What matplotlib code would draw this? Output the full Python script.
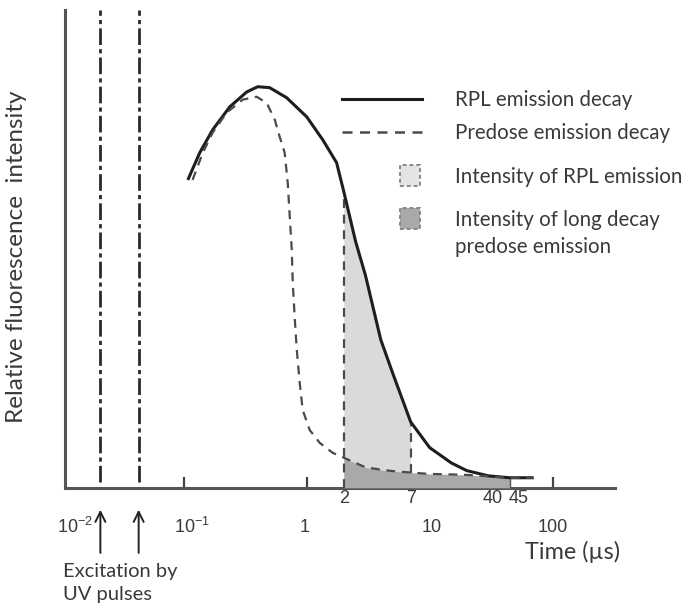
import numpy as np
import matplotlib
matplotlib.use("Agg")
import matplotlib.pyplot as plt
from matplotlib.patches import Rectangle
from matplotlib.transforms import blended_transform_factory

plt.rcParams['font.family'] = ['Lato', 'DejaVu Sans']
plt.rcParams['mathtext.fontset'] = 'custom'
plt.rcParams['mathtext.rm'] = 'Liberation Sans'

# RPL emission decay (solid) - rise part
rpl_head_x = [0.108, 0.135, 0.172, 0.237, 0.325, 0.40, 0.50, 0.687, 1.0, 1.35, 1.75]
rpl_head_y = [0.644, 0.701, 0.749, 0.797, 0.828, 0.839, 0.837, 0.816, 0.776, 0.728, 0.680]

# predose emission decay (dashed) - rise and fast drop
pre_head_x = [0.118, 0.143, 0.172, 0.224, 0.302, 0.392, 0.473, 0.55, 0.603, 0.662,
              0.701, 0.728, 0.756, 0.770, 0.798, 0.830, 0.877, 0.927, 1.057, 1.276, 1.63]
pre_head_y = [0.644, 0.701, 0.743, 0.785, 0.812, 0.818, 0.805, 0.770, 0.734, 0.701,
              0.638, 0.567, 0.498, 0.429, 0.358, 0.289, 0.220, 0.163, 0.121, 0.094, 0.073]

# shared tail times (us) for both curves
tail_x = [2, 2.5, 3, 4, 5, 7, 10, 15, 20, 30, 45, 70]
rpl_tail_y = [0.62, 0.515, 0.445, 0.31, 0.24, 0.138, 0.084, 0.052, 0.036, 0.025, 0.021, 0.021]
pre_tail_y = [0.063, 0.052, 0.043, 0.038, 0.035, 0.032, 0.029, 0.028, 0.027, 0.024, 0.021, 0.021]

# excitation pulses
pulse_x = [0.021, 0.043]

major_ticks = [0.1, 1, 10, 100]
major_labels = [r'$10^{-2}$', r'$10^{-1}$', '1', '10', '100']
major_label_x = [0.013, 0.116, 0.96, 10.3, 100]
window_ticks = [2, 7, 40, 45]

fig = plt.figure(figsize=(6.9, 6.09), dpi=100)
ax = fig.add_axes([0.094, 0.199, 0.797, 0.785])
ax.set_xscale('log')
ax.set_xlim(0.0108, 320)
ax.set_ylim(0, 1)

line_c = '#1e1e1e'
dash_c = '#4a4a4a'
text_c = '#3a3a3a'

rpl_x = rpl_head_x + tail_x
rpl_y = rpl_head_y + rpl_tail_y
pre_x = pre_head_x + tail_x
pre_y = pre_head_y + pre_tail_y

tx = np.array(tail_x)
ry = np.array(rpl_tail_y)
py = np.array(pre_tail_y)

# intensity of long decay predose emission (2-45 us)
m_long = (tx >= 2) & (tx <= 45)
ax.fill_between(tx[m_long], 0, py[m_long], color='#a9a9a9', lw=0, zorder=3)
# intensity of RPL emission (2-7 us)
m_rpl = (tx >= 2) & (tx <= 7)
ax.fill_between(tx[m_rpl], py[m_rpl], ry[m_rpl], color='#dadada', lw=0, zorder=3)

ax.plot(rpl_x, rpl_y, color=line_c, lw=2.2, zorder=5, solid_capstyle='butt',
        solid_joinstyle='round')
ax.plot(pre_x, pre_y, color=dash_c, lw=1.6, dashes=(4, 3), zorder=5)

# window edges
ax.vlines(tx[0], 0, ry[0], color=dash_c, lw=1.6, linestyles=(0, (4, 3)), zorder=4)
ax.vlines(tx[5], py[5], ry[5], color=dash_c, lw=1.6, linestyles=(0, (4, 3)), zorder=4)
ax.vlines(tx[-2], 0, py[-2], color='#555555', lw=1.0, zorder=4)

for px in pulse_x:
    ax.axvline(px, ymin=0.013, ymax=1, color='#2a2a2a', lw=2,
               dashes=(6, 1.5, 1.5, 1.5), zorder=2)

# axes styling
for s in ['top', 'right']:
    ax.spines[s].set_visible(False)
for s in ['left', 'bottom']:
    ax.spines[s].set_color('#555555')
    ax.spines[s].set_linewidth(2.2)
ax.set_yticks([])
ax.set_xticks(major_ticks)
ax.set_xticklabels([])
ax.xaxis.set_minor_locator(matplotlib.ticker.NullLocator())
ax.tick_params(axis='x', direction='in', length=8, width=1.6, color='#444444')

trans = blended_transform_factory(ax.transData, ax.transAxes)
for x, lab in zip(major_label_x, major_labels):
    ax.text(x, -0.082, lab, transform=trans, ha='center', va='center',
            fontsize=13, family='Liberation Sans', color=text_c)
win_ha = ['center', 'center', 'right', 'left']
win_dx = [1.0, 1.0, 0.99, 0.98]
for x, ha, dx in zip(window_ticks, win_ha, win_dx):
    ax.text(x * dx, -0.022, str(x), transform=trans, ha=ha, va='center',
            fontsize=13, family='Liberation Sans', color=text_c)

ax.set_ylabel('Relative fluorescence  intensity', fontsize=17.5, color=text_c)
ax.yaxis.set_label_coords(-0.069, 0.483)

# excitation arrows
for px in pulse_x:
    ax.annotate('', xy=(px, -0.04), xytext=(px, -0.142),
                xycoords=trans, textcoords=trans,
                arrowprops=dict(arrowstyle='->', color='#222222', lw=1.4,
                                mutation_scale=18), annotation_clip=False)
fig.text(0.091, 0.062, 'Excitation by', fontsize=14.5, color=text_c, va='center')
fig.text(0.091, 0.024, 'UV pulses', fontsize=14.5, color=text_c, va='center')
fig.text(0.829, 0.094, 'Time (\u00b5s)', fontsize=16.8, color=text_c,
         ha='center', va='center')

# legend drawn by hand
ax.plot([0.504, 0.649], [0.814, 0.814], transform=ax.transAxes, color=line_c, lw=2.2)
ax.plot([0.504, 0.649], [0.745, 0.745], transform=ax.transAxes, color=dash_c,
        lw=1.8, dashes=(4, 3))
ax.add_patch(Rectangle((0.609, 0.632), 0.036, 0.043, transform=ax.transAxes,
                       facecolor='#e4e4e4', edgecolor='#888888', lw=1.4,
                       ls=(0, (2, 1.5))))
ax.add_patch(Rectangle((0.609, 0.542), 0.036, 0.043, transform=ax.transAxes,
                       facecolor='#a9a9a9', edgecolor='#888888', lw=1.4,
                       ls=(0, (2, 1.5))))
leg_kw = dict(transform=ax.transAxes, fontsize=14.8, color=text_c, va='center')
ax.text(0.709, 0.812, 'RPL emission decay', **leg_kw)
ax.text(0.709, 0.743, 'Predose emission decay', **leg_kw)
ax.text(0.709, 0.651, 'Intensity of RPL emission', **leg_kw)
ax.text(0.709, 0.561, 'Intensity of long decay', **leg_kw)
ax.text(0.709, 0.504, 'predose emission', **leg_kw)

fig.savefig('out.png', dpi=100)
